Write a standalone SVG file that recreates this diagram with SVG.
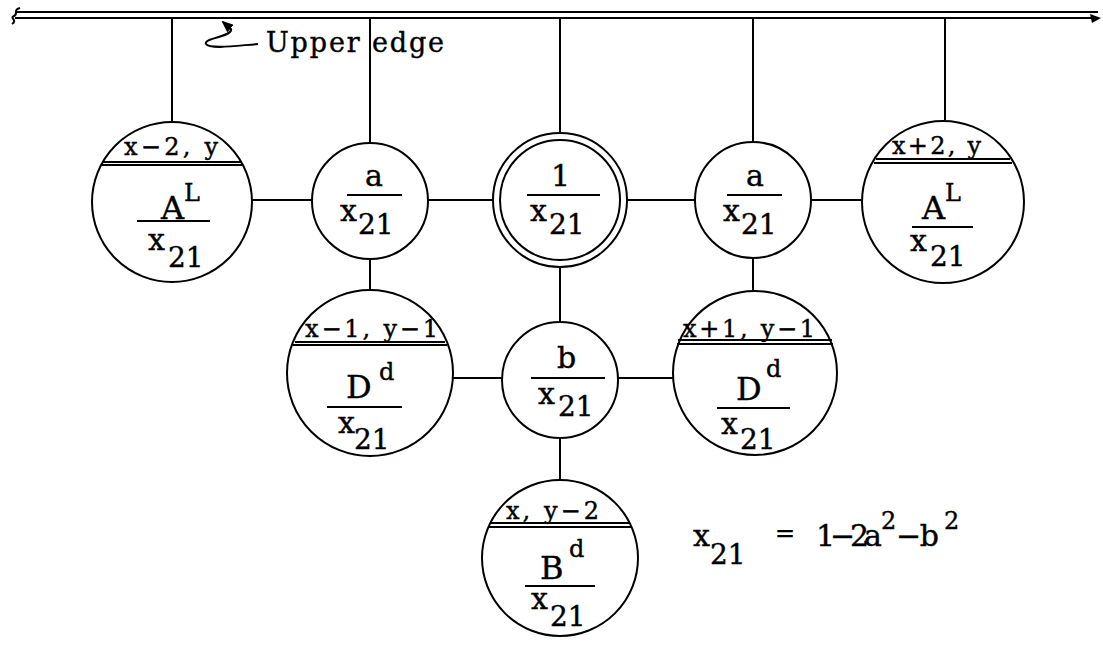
<svg xmlns="http://www.w3.org/2000/svg" width="1103" height="645" viewBox="0 0 1103 645">
<style>
text{font-family:"DejaVu Serif","Liberation Serif",serif;fill:#000;stroke:#000;stroke-width:0.4}
.big{font-size:32px}
.num{font-size:30px}
.x{font-size:30px}
.sub{font-size:28px}
.sup{font-size:24px}
.hdr{font-size:24px}
.lbl{font-size:27px}
.c{fill:#fff;stroke:#000;stroke-width:2}
.ln{stroke:#000;stroke-width:2;fill:none}
.fr{stroke:#000;stroke-width:2}
</style>
<defs>
<marker id="ah" markerWidth="12" markerHeight="10" refX="10" refY="5" orient="auto" markerUnits="userSpaceOnUse">
<path d="M0 0 L12 5 L0 10 Z" fill="#000"/>
</marker>
</defs>
<rect width="1103" height="645" fill="#fff"/>
<g id="connectors">
<line class="ln" x1="15" y1="12" x2="1098" y2="12"/>
<line class="ln" x1="15" y1="18" x2="1098" y2="18"/>
<path class="ln" d="M20 8 C12 10 19 14 14 16 C9 18 18 20 12 24"/>
<path d="M1090 14 L1101 18 L1092 23 Z" fill="#000"/>
<line class="ln" x1="172" y1="18" x2="172" y2="122"/>
<line class="ln" x1="370" y1="18" x2="370" y2="143"/>
<line class="ln" x1="560" y1="18" x2="560" y2="133"/>
<line class="ln" x1="753" y1="18" x2="753" y2="142"/>
<line class="ln" x1="945" y1="18" x2="945" y2="120"/>
<line class="ln" x1="252" y1="200" x2="312" y2="200"/>
<line class="ln" x1="428" y1="200" x2="493" y2="200"/>
<line class="ln" x1="627" y1="200" x2="695" y2="200"/>
<line class="ln" x1="811" y1="200" x2="861" y2="200"/>
<line class="ln" x1="370" y1="259" x2="370" y2="290"/>
<line class="ln" x1="753" y1="258" x2="753" y2="291"/>
<line class="ln" x1="560" y1="267" x2="560" y2="322"/>
<line class="ln" x1="560" y1="438" x2="560" y2="480"/>
<line class="ln" x1="453" y1="378" x2="502" y2="378"/>
<line class="ln" x1="618" y1="378" x2="673" y2="378"/>
<path class="ln" d="M258 44 C242 45 210 50 206 44 C203 38 233 37 231 29 L223 22" marker-end="url(#ah)"/>
</g>
<g id="label-upper-edge">
<text class="lbl" x="266" y="52" textLength="178" lengthAdjust="spacing">Upper edge</text>
</g>
<g id="n-A-left">
<circle class="c" cx="172" cy="202" r="80"/>
<line class="fr" x1="103" y1="162" x2="241" y2="162"/>
<line class="fr" x1="101" y1="165" x2="243" y2="165"/>
<text class="hdr" x="124" y="155" textLength="94" lengthAdjust="spacing">x−2, y</text>
<text class="big" x="161" y="219">A</text>
<text class="sup" x="184" y="201">L</text>
<line class="fr" x1="137" y1="221" x2="210" y2="221"/>
<text class="x" x="148" y="250">x</text>
<text class="sub" x="168" y="267">21</text>
</g>
<g id="n-a-left">
<circle class="c" cx="370" cy="201" r="58"/>
<text class="num" x="365" y="186">a</text>
<line class="fr" x1="347" y1="195" x2="402" y2="195"/>
<text class="x" x="340" y="221">x</text>
<text class="sub" x="358" y="234">21</text>
</g>
<g id="n-center">
<circle class="c" cx="560" cy="200" r="67"/>
<circle class="c" cx="560" cy="200" r="60"/>
<text class="num" x="551" y="186">1</text>
<line class="fr" x1="527" y1="195" x2="600" y2="195"/>
<text class="x" x="530" y="221">x</text>
<text class="sub" x="549" y="234">21</text>
</g>
<g id="n-a-right">
<circle class="c" cx="753" cy="200" r="58"/>
<text class="num" x="746" y="186">a</text>
<line class="fr" x1="727" y1="195" x2="782" y2="195"/>
<text class="x" x="723" y="221">x</text>
<text class="sub" x="741" y="234">21</text>
</g>
<g id="n-A-right">
<circle class="c" cx="943" cy="202" r="81"/>
<line class="fr" x1="876" y1="159" x2="1010" y2="159"/>
<line class="fr" x1="874" y1="163" x2="1012" y2="163"/>
<text class="hdr" x="892" y="154" textLength="89" lengthAdjust="spacing">x+2, y</text>
<text class="big" x="922" y="219">A</text>
<text class="sup" x="945" y="201">L</text>
<line class="fr" x1="912" y1="227" x2="973" y2="227"/>
<text class="x" x="910" y="251">x</text>
<text class="sub" x="930" y="266">21</text>
</g>
<g id="n-D-left">
<circle class="c" cx="370" cy="373" r="83"/>
<line class="fr" x1="295" y1="342" x2="445" y2="342"/>
<line class="fr" x1="293" y1="345" x2="447" y2="345"/>
<text class="hdr" x="305" y="337" textLength="133" lengthAdjust="spacing">x−1, y−1</text>
<text class="big" x="346" y="398">D</text>
<text class="sup" x="379" y="380">d</text>
<line class="fr" x1="327" y1="407" x2="402" y2="407"/>
<text class="x" x="338" y="433">x</text>
<text class="sub" x="354" y="449">21</text>
</g>
<g id="n-b">
<circle class="c" cx="560" cy="380" r="58"/>
<text class="num" x="557" y="368">b</text>
<line class="fr" x1="531" y1="378" x2="605" y2="378"/>
<text class="x" x="538" y="404">x</text>
<text class="sub" x="558" y="416">21</text>
</g>
<g id="n-D-right">
<circle class="c" cx="755" cy="373" r="82"/>
<line class="fr" x1="678" y1="340" x2="832" y2="340"/>
<line class="fr" x1="677" y1="344" x2="833" y2="344"/>
<text class="hdr" x="683" y="337" textLength="132" lengthAdjust="spacing">x+1, y−1</text>
<text class="big" x="736" y="400">D</text>
<text class="sup" x="766" y="377">d</text>
<line class="fr" x1="717" y1="408" x2="790" y2="408"/>
<text class="x" x="721" y="434">x</text>
<text class="sub" x="740" y="449">21</text>
</g>
<g id="n-B">
<circle class="c" cx="560" cy="558" r="78"/>
<line class="fr" x1="491" y1="523" x2="629" y2="523"/>
<line class="fr" x1="489" y1="527" x2="631" y2="527"/>
<text class="hdr" x="506" y="519" textLength="93" lengthAdjust="spacing">x, y−2</text>
<text class="big" x="540" y="579">B</text>
<text class="sup" x="569" y="557">d</text>
<line class="fr" x1="525" y1="586" x2="595" y2="586"/>
<text class="x" x="531" y="609">x</text>
<text class="sub" x="550" y="626">21</text>
</g>
<g id="formula">
<text class="x" x="693" y="546">x</text>
<text class="sub" x="710" y="564">21</text>
<text class="sup" x="775" y="541">=</text>
<text class="num" x="816" y="546" textLength="66" lengthAdjust="spacing">1−2a</text>
<text class="sup" x="881" y="529">2</text>
<text class="num" x="896" y="546" textLength="43" lengthAdjust="spacing">−b</text>
<text class="sup" x="944" y="529">2</text>
</g>
</svg>
